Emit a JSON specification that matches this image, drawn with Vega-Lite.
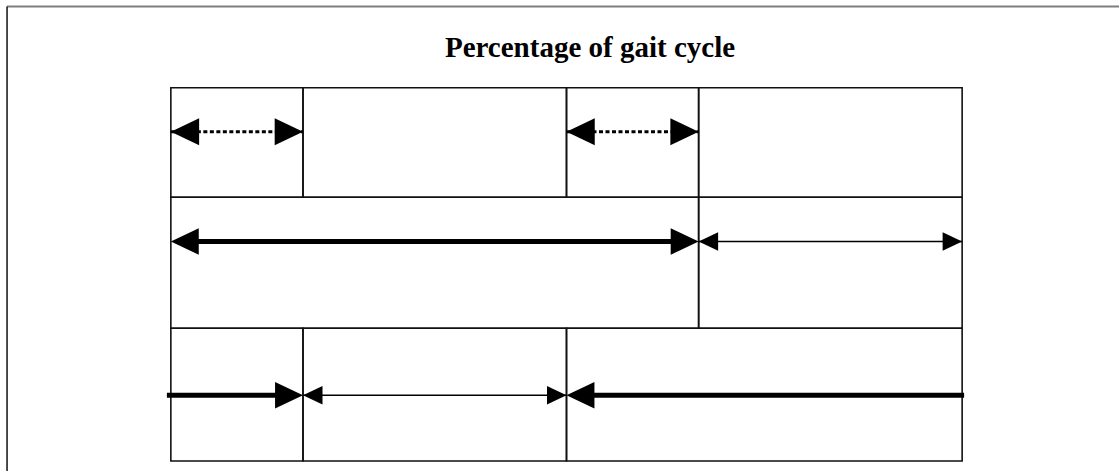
{
  "$schema": "https://vega.github.io/schema/vega-lite/v6.json",
  "width": 1120,
  "height": 472,
  "padding": 0,
  "autosize": {"type": "fit", "contains": "padding"},
  "background": "white",
  "config": {"view": {"stroke": null}},
  "datasets": {
    "cells": [
      {"row": "double support", "x": 0, "x2": 16.7, "y": 0, "y2": 29.33},
      {"row": "double support", "x": 16.7, "x2": 50, "y": 0, "y2": 29.33},
      {"row": "double support", "x": 50, "x2": 66.7, "y": 0, "y2": 29.33},
      {"row": "double support", "x": 66.7, "x2": 100, "y": 0, "y2": 29.33},
      {"row": "limb 1", "x": 0, "x2": 66.7, "y": 29.33, "y2": 64.44},
      {"row": "limb 1", "x": 66.7, "x2": 100, "y": 29.33, "y2": 64.44},
      {"row": "limb 2", "x": 0, "x2": 16.7, "y": 64.44, "y2": 100},
      {"row": "limb 2", "x": 16.7, "x2": 50, "y": 64.44, "y2": 100},
      {"row": "limb 2", "x": 50, "x2": 100, "y": 64.44, "y2": 100}
    ],
    "arrows": [
      {"phase": "double support", "x": 0, "x2": 16.7, "y": 11.76},
      {"phase": "double support", "x": 50, "x2": 66.7, "y": 11.76},
      {"phase": "stance", "x": 1, "x2": 65.7, "y": 41.18},
      {"phase": "swing", "x": 66.7, "x2": 100, "y": 41.18},
      {"phase": "stance", "x": -0.5, "x2": 15.7, "y": 82.35},
      {"phase": "swing", "x": 16.7, "x2": 50, "y": 82.35},
      {"phase": "stance", "x": 51, "x2": 100.25, "y": 82.35}
    ],
    "heads": [
      {"phase": "double support", "x": 0, "y": 11.76, "dir": "left"},
      {"phase": "double support", "x": 16.7, "y": 11.76, "dir": "right"},
      {"phase": "double support", "x": 50, "y": 11.76, "dir": "left"},
      {"phase": "double support", "x": 66.7, "y": 11.76, "dir": "right"},
      {"phase": "stance", "x": 0, "y": 41.18, "dir": "left"},
      {"phase": "stance", "x": 66.7, "y": 41.18, "dir": "right"},
      {"phase": "swing", "x": 66.7, "y": 41.18, "dir": "left"},
      {"phase": "swing", "x": 100, "y": 41.18, "dir": "right"},
      {"phase": "stance", "x": 16.7, "y": 82.35, "dir": "right"},
      {"phase": "swing", "x": 16.7, "y": 82.35, "dir": "left"},
      {"phase": "swing", "x": 50, "y": 82.35, "dir": "right"},
      {"phase": "stance", "x": 50, "y": 82.35, "dir": "left"}
    ]
  },
  "layer": [
    {
      "data": {"values": [{"x": -20.7, "x2": 119.823, "y": -21.8}]},
      "mark": {"type": "rule", "color": "#7f7f7f", "strokeWidth": 2},
      "encoding": {
        "x": {"field": "x", "type": "quantitative", "axis": null, "scale": {"domain": [-21.591, 119.823], "nice": false, "zero": false}},
        "x2": {"field": "x2"},
        "y": {"field": "y", "type": "quantitative", "axis": null, "scale": {"domain": [-23.529, 102.674], "nice": false, "zero": false, "reverse": true}}
      }
    },
    {
      "data": {"values": [{"x": -20.7, "y": -21.8, "y2": 102.674}]},
      "mark": {"type": "rule", "color": "#111111", "strokeWidth": 1.5},
      "encoding": {
        "x": {"field": "x", "type": "quantitative", "axis": null, "scale": {"domain": [-21.591, 119.823], "nice": false, "zero": false}},
        "y": {"field": "y", "type": "quantitative", "axis": null, "scale": {"domain": [-23.529, 102.674], "nice": false, "zero": false, "reverse": true}},
        "y2": {"field": "y2"}
      }
    },
    {
      "data": {"values": [{"label": "Percentage of gait cycle", "x": 52.97, "y": -8.29}]},
      "mark": {"type": "text", "font": "Liberation Serif", "fontWeight": "bold", "fontSize": 29, "align": "center", "baseline": "alphabetic", "color": "#000000"},
      "encoding": {
        "x": {"field": "x", "type": "quantitative", "axis": null, "scale": {"domain": [-21.591, 119.823], "nice": false, "zero": false}},
        "y": {"field": "y", "type": "quantitative", "axis": null, "scale": {"domain": [-23.529, 102.674], "nice": false, "zero": false, "reverse": true}},
        "text": {"field": "label"}
      }
    },
    {
      "data": {"name": "cells"},
      "mark": {"type": "rect", "fill": null, "fillOpacity": 0, "stroke": "#111111", "strokeWidth": 1.6},
      "encoding": {
        "x": {"field": "x", "type": "quantitative", "axis": null, "scale": {"domain": [-21.591, 119.823], "nice": false, "zero": false}},
        "x2": {"field": "x2"},
        "y": {"field": "y", "type": "quantitative", "axis": null, "scale": {"domain": [-23.529, 102.674], "nice": false, "zero": false, "reverse": true}},
        "y2": {"field": "y2"}
      }
    },
    {
      "data": {"name": "arrows"},
      "mark": {"type": "rule", "color": "#000000"},
      "encoding": {
        "x": {"field": "x", "type": "quantitative", "axis": null, "scale": {"domain": [-21.591, 119.823], "nice": false, "zero": false}},
        "x2": {"field": "x2"},
        "y": {"field": "y", "type": "quantitative", "axis": null, "scale": {"domain": [-23.529, 102.674], "nice": false, "zero": false, "reverse": true}},
        "strokeWidth": {"field": "phase", "type": "ordinal", "legend": null, "scale": {"type": "ordinal", "domain": ["double support", "stance", "swing"], "range": [3, 5, 1.5]}},
        "strokeDash": {"field": "phase", "type": "nominal", "legend": null, "scale": {"domain": ["double support", "stance", "swing"], "range": [[4, 2.5], [1, 0], [1, 0]]}}
      }
    },
    {
      "data": {"name": "heads"},
      "mark": {"type": "point", "filled": true, "opacity": 1, "color": "#000000", "strokeWidth": 0},
      "encoding": {
        "x": {"field": "x", "type": "quantitative", "axis": null, "scale": {"domain": [-21.591, 119.823], "nice": false, "zero": false}},
        "y": {"field": "y", "type": "quantitative", "axis": null, "scale": {"domain": [-23.529, 102.674], "nice": false, "zero": false, "reverse": true}},
        "shape": {"field": "dir", "type": "nominal", "legend": null, "scale": {"domain": ["left", "right"], "range": ["M0,0L2,-0.95L2,0.95Z", "M0,0L-2,-0.95L-2,0.95Z"]}},
        "size": {"field": "phase", "type": "ordinal", "legend": null, "scale": {"type": "ordinal", "domain": ["double support", "stance", "swing"], "range": [800, 780, 380]}}
      }
    }
  ]
}
